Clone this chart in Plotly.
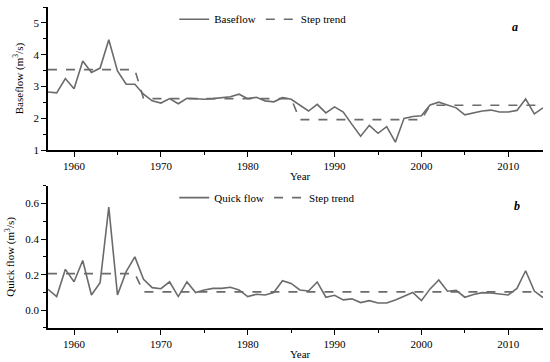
import plotly.graph_objects as go

years = list(range(1957, 2015))

baseflow = [2.83, 2.80, 3.25, 2.93, 3.80, 3.44, 3.58, 4.47, 3.49, 3.07,
            3.07, 2.76, 2.55, 2.48, 2.62, 2.46, 2.63, 2.61, 2.60, 2.62,
            2.65, 2.68, 2.76, 2.62, 2.66, 2.55, 2.52, 2.65, 2.60, 2.42,
            2.23, 2.44, 2.17, 2.36, 2.20, 1.81, 1.44, 1.78, 1.53, 1.74,
            1.25, 2.00, 2.06, 2.08, 2.42, 2.51, 2.42, 2.33, 2.11, 2.17,
            2.23, 2.26, 2.20, 2.20, 2.25, 2.61, 2.14, 2.33]

quickflow = [0.118, 0.077, 0.230, 0.160, 0.280, 0.086, 0.155, 0.580, 0.086, 0.217,
             0.300, 0.174, 0.127, 0.121, 0.160, 0.077, 0.159, 0.099, 0.114, 0.123,
             0.123, 0.129, 0.114, 0.077, 0.090, 0.086, 0.100, 0.166, 0.151, 0.114,
             0.108, 0.159, 0.073, 0.084, 0.058, 0.064, 0.043, 0.054, 0.041, 0.041,
             0.058, 0.080, 0.100, 0.054, 0.120, 0.170, 0.107, 0.112, 0.073, 0.088,
             0.099, 0.097, 0.093, 0.086, 0.123, 0.222, 0.108, 0.071]

base_step_x = [1957, 1967, 1968, 1985, 1986, 2000, 2001, 2014]
base_step_y = [3.53, 3.53, 2.62, 2.62, 1.96, 1.96, 2.41, 2.41]

quick_step_x = [1957, 1967, 1968, 2014]
quick_step_y = [0.206, 0.206, 0.103, 0.103]

x_ticks = [1960, 1970, 1980, 1990, 2000, 2010]
x_minor = [1965, 1975, 1985, 1995, 2005]
base_ticks = [1, 2, 3, 4, 5]
quick_ticks = [0.0, 0.2, 0.4, 0.6]
quick_labels = ["0.0", "0.2", "0.4", "0.6"]

LINE = "#6b6b6b"
FONT = "Liberation Serif"

fig = go.Figure()
fig.add_trace(go.Scatter(x=years, y=baseflow, mode="lines", name="Baseflow",
                         line=dict(color=LINE, width=1.6), xaxis="x", yaxis="y",
                         legend="legend"))
fig.add_trace(go.Scatter(x=base_step_x, y=base_step_y, mode="lines", name="Step trend",
                         line=dict(color=LINE, width=1.6, dash="dash"), xaxis="x", yaxis="y",
                         legend="legend"))
fig.add_trace(go.Scatter(x=years, y=quickflow, mode="lines", name="Quick flow",
                         line=dict(color=LINE, width=1.6), xaxis="x2", yaxis="y2",
                         legend="legend2"))
fig.add_trace(go.Scatter(x=quick_step_x, y=quick_step_y, mode="lines", name="Step trend",
                         line=dict(color=LINE, width=1.6, dash="dash"), xaxis="x2", yaxis="y2",
                         legend="legend2"))

tickfont = dict(family=FONT, size=11, color="black")
axis_common = dict(showline=True, linecolor="black", linewidth=1.5, showgrid=False,
                   zeroline=False, ticks="outside", ticklen=5, tickwidth=1.2,
                   tickcolor="black", tickfont=tickfont, automargin=False)

xcommon = dict(axis_common, range=[1957, 2014], tickvals=x_ticks,
               minor=dict(tickvals=x_minor, ticks="outside",
                          ticklen=3, tickwidth=1.2, tickcolor="black"))

fig.update_layout(
    width=550, height=362,
    margin=dict(l=48, r=7, t=5, b=34),
    paper_bgcolor="white", plot_bgcolor="white",
    xaxis=dict(xcommon, domain=[0, 1], anchor="y"),
    yaxis=dict(axis_common, domain=[0.554, 1.0], anchor="x", range=[1, 5.5],
               tickvals=base_ticks,
               minor=dict(dtick=0.5, ticks="outside", ticklen=3, tickwidth=1.2,
                          tickcolor="black"),
               title=dict(text="Baseflow (m<sup>3</sup>/s)",
                          font=dict(family=FONT, size=11, color="black"), standoff=8)),
    xaxis2=dict(xcommon, domain=[0, 1], anchor="y2"),
    yaxis2=dict(axis_common, domain=[0.0, 0.443], anchor="x2", range=[-0.1, 0.7],
                tickvals=quick_ticks, ticktext=quick_labels,
                minor=dict(dtick=0.1, ticks="outside", ticklen=3, tickwidth=1.2,
                           tickcolor="black"),
                title=dict(text="Quick flow (m<sup>3</sup>/s)",
                           font=dict(family=FONT, size=11, color="black"), standoff=8)),
    legend=dict(orientation="h", x=0.255, y=0.962, xanchor="left", yanchor="middle",
                bgcolor="rgba(0,0,0,0)", font=dict(family=FONT, size=11, color="black"),
                itemwidth=30, tracegroupgap=0),
    legend2=dict(orientation="h", x=0.255, y=0.406, xanchor="left", yanchor="middle",
                 bgcolor="rgba(0,0,0,0)", font=dict(family=FONT, size=11, color="black"),
                 itemwidth=30, tracegroupgap=0),
    showlegend=True,
    annotations=[
        dict(text="Year", x=0.511, y=0.474, xref="paper", yref="paper",
             xanchor="center", yanchor="middle", showarrow=False,
             font=dict(family=FONT, size=11, color="black")),
        dict(text="Year", x=0.511, y=-0.080, xref="paper", yref="paper",
             xanchor="center", yanchor="middle", showarrow=False,
             font=dict(family=FONT, size=11, color="black")),
        dict(text="<b><i>a</i></b>", x=2010.8, y=4.88, xref="x", yref="y",
             showarrow=False, font=dict(family=FONT, size=12, color="black")),
        dict(text="<b><i>b</i></b>", x=2011, y=0.588, xref="x2", yref="y2",
             showarrow=False, font=dict(family=FONT, size=12, color="black")),
    ],
)

fig.write_html("out.html", config={"displayModeBar": False},
               post_script="document.body.style.margin='0';document.body.style.padding='0';")
